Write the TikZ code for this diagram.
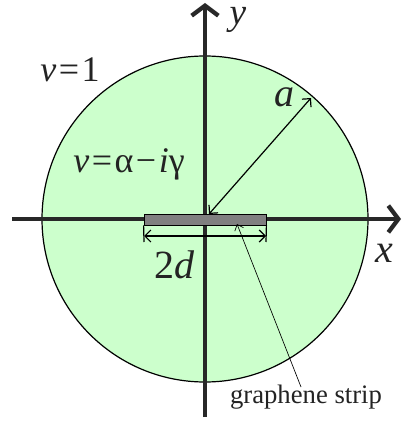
\documentclass[tikz,border=0pt]{standalone}
\usepackage{fontspec}
\setmainfont{Liberation Serif}
\usetikzlibrary{arrows.meta}
\definecolor{fillgreen}{RGB}{204,255,204}
\definecolor{axisgray}{RGB}{40,40,40}
\definecolor{stripgray}{RGB}{128,128,128}
\definecolor{txt}{RGB}{35,35,35}
\newcommand{\gsp}{\hspace{0.07em}}
\begin{document}
\begin{tikzpicture}[x=0.75pt,y=-0.75pt,
  axis/.style={draw=axisgray,line width=3.2pt,-{Straight Barb[length=7.5pt,width=20pt,line width=3.2pt]}},
  thinarrow/.style={draw=black,line width=0.9pt,{Straight Barb[length=4.5pt,width=9pt]}-{Straight Barb[length=4.5pt,width=9pt]}},
  pointer/.style={draw=black,line width=0.5pt,-{Straight Barb[length=4pt,width=7pt]}},
  lbl/.style={text=txt,inner sep=0pt,anchor=base,font=\fontsize{27}{29}\selectfont},
  biglbl/.style={text=txt,inner sep=0pt,anchor=base,font=\fontsize{30}{32}\selectfont\itshape}]
\useasboundingbox (0,0) rectangle (403,423);
% medium
\node[circle,draw=black,line width=0.9pt,fill=fillgreen,minimum size=326*0.75pt,inner sep=0pt] (disk) at (205,219) {};
\coordinate (O) at (205,219);
% axes
\coordinate (xl) at (12,219);
\coordinate (xr) at (401,219);
\coordinate (yb) at (205,417);
\coordinate (yt) at (205,3);
\draw[axis] (xl) -- (xr);
\draw[axis] (yb) -- (yt);
% strip
\node[draw=black,line width=0.6pt,fill=stripgray,minimum width=122*0.75pt,minimum height=11*0.75pt,inner sep=0pt] (strip) at (205,219.5) {};
% dimension 2d
\coordinate (tl) at (144,242);
\coordinate (tr) at (266,242);
\draw[line width=0.9pt] (strip.south west) -- (tl);
\draw[line width=0.9pt] (strip.south east) -- (tr);
\coordinate (dl) at (144,236);
\coordinate (dr) at (266,236);
\draw[thinarrow] (dl) -- (dr);
% radius
\coordinate (r0) at (209,214);
\coordinate (r1) at (311,98);
\draw[thinarrow] (r0) -- (r1);
% labels
\node[lbl] (v1) at (70,82) {\itshape v\gsp\upshape=\gsp1};
\node[lbl] (v2) at (129,173) {\itshape v\gsp\upshape=\gsp α\gsp−\gsp\itshape i\upshape γ};
\node[biglbl] (la) at (284,107) {a};
\node[biglbl,font=\fontsize{30}{32}\selectfont] (l2d) at (174,278) {2\itshape d};
\node[biglbl] (lx) at (384,262) {x};
\node[biglbl,font=\fontsize{28}{30}\selectfont\itshape,text height=1.05ex] (ly) at (238,25) {y};
\node[text=txt,inner sep=0pt,font=\fontsize{20}{22}\selectfont,anchor=base] (gs) at (306,403) {graphene strip};
\coordinate (gsp) at (301,387);
\coordinate (stp) at (237,224);
\draw[pointer] (gsp) -- (stp);
\end{tikzpicture}
\end{document}
